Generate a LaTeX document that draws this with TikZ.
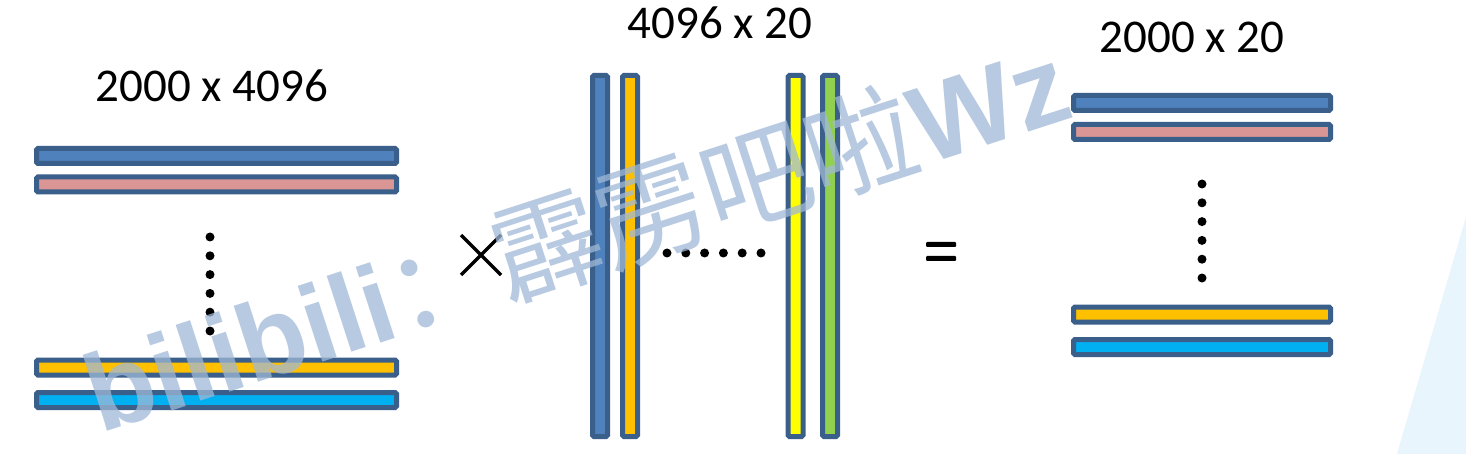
\documentclass[tikz,border=0pt]{standalone}
\usepackage{fontspec}
\setmainfont{Carlito}
\newfontfamily\wmlatin{Liberation Sans}[BoldFont={Liberation Sans Bold}]
\newfontfamily\wmcjk{Noto Sans CJK SC}
\definecolor{edge}{RGB}{58,95,139}
\definecolor{cblue}{RGB}{79,129,189}
\definecolor{cpink}{RGB}{217,150,148}
\definecolor{corange}{RGB}{255,192,0}
\definecolor{ccyan}{RGB}{0,176,240}
\definecolor{cyel}{RGB}{255,255,0}
\definecolor{cgreen}{RGB}{146,208,80}
\definecolor{tri}{RGB}{232,245,252}
\definecolor{wm}{RGB}{160,185,215}
\tikzset{
  bar/.style={draw=edge, line width=5pt, rounded corners=1.5pt, inner sep=0pt, outer sep=0pt},
  lhbar/.style={bar, minimum width=360pt, minimum height=15pt},
  rhbar/.style={bar, minimum width=257pt, minimum height=15pt},
  vbar/.style={bar, minimum width=15pt, minimum height=361pt},
  dotnode/.style={circle, fill=black, minimum size=9pt, inner sep=0pt},
  lbl/.style={font=\fontsize{47}{56}\selectfont, inner sep=0pt, anchor=base},
  eqbar/.style={fill=black, rounded corners=1pt, minimum width=30pt, minimum height=5pt, inner sep=0pt},
}
\begin{document}
\begin{tikzpicture}[x=1pt,y=-1pt]
\useasboundingbox (0,0) rectangle (1466,454);
\fill[white] (0,0) rectangle (1466,454);
\fill[tri] (1466,217) -- (1397,454) -- (1466,454) -- cycle;
% labels
\node[lbl] (tl) at (212,102) {2000 x 4096};
\node[lbl] (tm) at (720,39) {4096 x 20};
\node[lbl] (tr) at (1192,53) {2000 x 20};
% left matrix
\node[lhbar, fill=cblue] (l1) at (216.5,156) {};
\node[lhbar, fill=cpink] (l2) at (216.5,184.5) {};
\node[lhbar, fill=corange] (l3) at (216.5,367.5) {};
\node[lhbar, fill=ccyan] (l4) at (216.5,400) {};
\foreach \i in {0,...,5} \node[dotnode] (ld\i) at (210,237+18.8*\i) {};
% times
\coordinate (x1) at (461,235); \coordinate (x2) at (501,275);
\coordinate (x3) at (461,275); \coordinate (x4) at (501,235);
\draw[line width=3.5pt] (x1) -- (x2) (x3) -- (x4);
% middle matrix
\node[vbar, fill=cblue] (v1) at (600,256) {};
\node[vbar, fill=corange] (v2) at (630,256) {};
\node[vbar, fill=cyel] (v3) at (795.5,256) {};
\node[vbar, fill=cgreen] (v4) at (830,256) {};
\foreach \i in {0,...,5} \node[dotnode] (md\i) at (667+18.8*\i,253) {};
% equals
\node[eqbar] (e1) at (941,244.5) {};
\node[eqbar] (e2) at (941,258.5) {};
% right matrix
\node[rhbar, fill=cblue] (r1) at (1202,103) {};
\node[rhbar, fill=cpink] (r2) at (1202,132) {};
\node[rhbar, fill=corange] (r3) at (1202,314.5) {};
\node[rhbar, fill=ccyan] (r4) at (1202,347) {};
\foreach \i in {0,...,5} \node[dotnode] (rd\i) at (1202,184+18.8*\i) {};
% watermark
\node[anchor=base west, rotate=18, inner sep=0pt, text=wm, opacity=0.75,
  font=\fontsize{110}{120}\selectfont] (wm) at (100,434)
  {{\wmlatin\bfseries bilibili}{\wmcjk ：霹雳吧啦}{\wmlatin\bfseries Wz}};
\end{tikzpicture}
\end{document}
